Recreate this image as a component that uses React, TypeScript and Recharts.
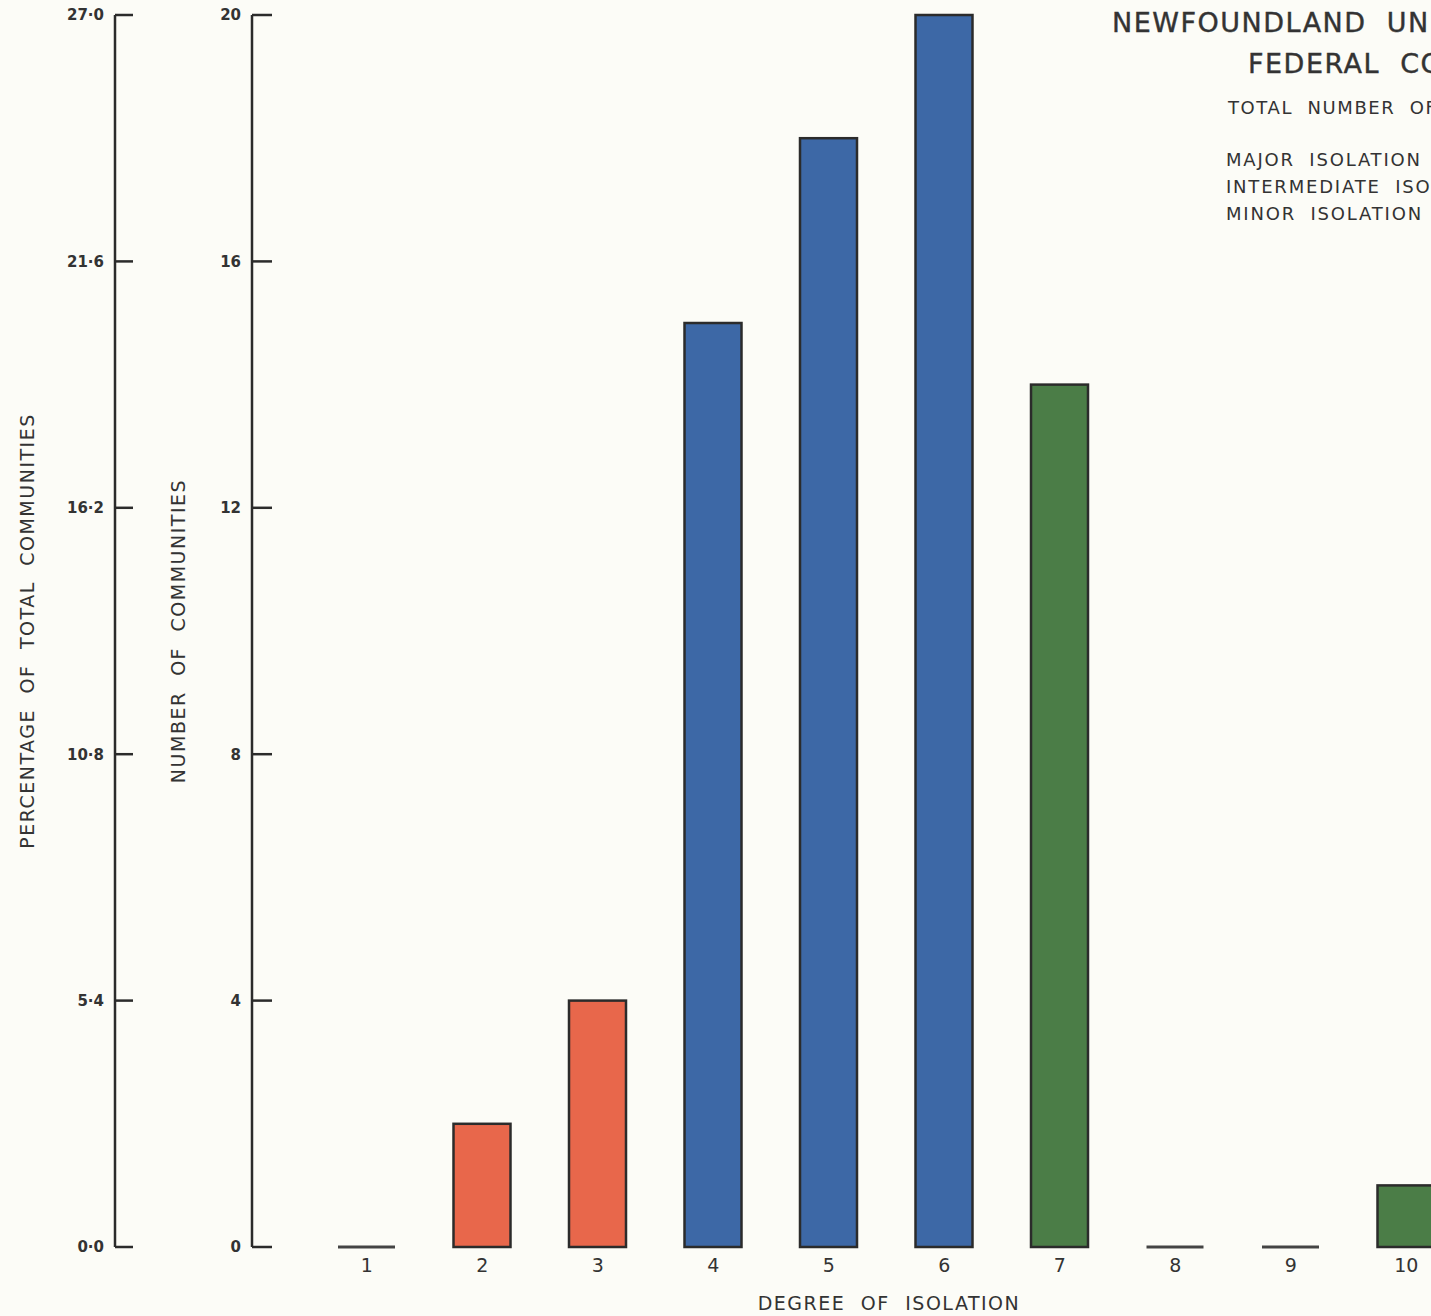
import { Bar, BarChart, Cell, Customized, XAxis, YAxis } from 'recharts';

// degree of isolation scale, 1 (least) .. 10 (most)
const degrees = ['1', '2', '3', '4', '5', '6', '7', '8', '9', '10'];
const communities = [0, 2, 4, 15, 18, 20, 14, 0, 0, 1];
const isolationClass = [
  'minor', 'minor', 'minor',
  'intermediate', 'intermediate', 'intermediate',
  'major', 'major', 'major', 'major',
];

const countTicks = [0, 4, 8, 12, 16, 20];
const pctTicks = [0, 5.4, 10.8, 16.2, 21.6, 27];

const titleLines = ['NEWFOUNDLAND UNDER CONFEDERATION', 'FEDERAL CONTRIBUTION'];
const legendLines = ['MAJOR ISOLATION', 'INTERMEDIATE ISOLATION', 'MINOR ISOLATION'];
const totalLine = 'TOTAL NUMBER OF COMMUNITIES  74';

const classColor: Record<string, string> = {
  minor: '#e8674b',
  intermediate: '#3d68a6',
  major: '#4b7d47',
};

const data = degrees.map((d, i) => ({ degree: d, count: communities[i], cls: isolationClass[i] }));

const FONT = '"DejaVu Sans", sans-serif';
const INK = '#2b2b2b';

function IsolationBar(props: any) {
  const { x, y, width, height, fill } = props;
  if (!height) {
    // empty classes are marked with a short rule on the baseline
    return <line x1={x} x2={x + width} y1={y} y2={y} stroke="#444" strokeWidth={3} />;
  }
  return <rect x={x} y={y} width={width} height={height} fill={fill} stroke={INK} strokeWidth={2.5} />;
}

function Heading() {
  return (
    <g fontFamily={FONT} fill="#333">
      <text x={1112} y={32} fontSize={27} letterSpacing={1.5} stroke="#333" strokeWidth={0.4} style={{ wordSpacing: 10 }}>{titleLines[0]}</text>
      <text x={1248} y={73} fontSize={27} letterSpacing={1.5} stroke="#333" strokeWidth={0.4} style={{ wordSpacing: 10 }}>{titleLines[1]}</text>
      <text x={1228} y={114} fontSize={18} letterSpacing={1.6} style={{ wordSpacing: 7 }}>{totalLine}</text>
      {legendLines.map((t, i) => (
        <text key={t} x={1226} y={166 + i * 27} fontSize={18} letterSpacing={1.8} style={{ wordSpacing: 7 }}>{t}</text>
      ))}
    </g>
  );
}

const axisLabelStyle = {
  textAnchor: 'middle',
  fontFamily: FONT,
  fontSize: 19,
  fill: '#333',
  letterSpacing: 1.5,
  wordSpacing: 8,
};

const tickStyle = { fontFamily: FONT, fontSize: 15, fontWeight: 700, fill: '#333' };

export default function App() {
  return (
    <div style={{ position: 'fixed', left: 0, top: 0, width: 1431, height: 1316, overflow: 'hidden', background: '#fcfcf7' }}>
      <BarChart width={1500} height={1316} data={data} margin={{ top: 15, right: 36, bottom: 0, left: 0 }}>
        <XAxis
          dataKey="degree"
          xAxisId="deg"
          axisLine={false}
          tickLine={false}
          tickSize={0}
          tickMargin={12}
          height={69}
          padding={{ left: 57, right: 0 }}
          tick={{ fontFamily: FONT, fontSize: 19, fill: '#333' }}
          label={{
            value: 'DEGREE OF ISOLATION',
            position: 'insideBottom',
            offset: 6,
            dx: 31,
            style: axisLabelStyle,
          }}
        />
        <YAxis
          yAxisId="count"
          width={137}
          domain={[0, 20]}
          ticks={countTicks}
          interval={0}
          axisLine={{ stroke: INK, strokeWidth: 2.5 }}
          tickLine={{ stroke: INK, strokeWidth: 2.5 }}
          tickSize={-20}
          tickMargin={31}
          tick={tickStyle}
          label={{
            value: 'NUMBER OF COMMUNITIES',
            angle: -90,
            position: 'insideLeft',
            offset: 63,
            style: axisLabelStyle,
          }}
        />
        <YAxis
          yAxisId="pct"
          width={115}
          type="number"
          domain={[0, 27]}
          allowDataOverflow
          ticks={pctTicks}
          interval={0}
          tickFormatter={(v: number) => v.toFixed(1).replace('.', '·')}
          axisLine={{ stroke: INK, strokeWidth: 2.5 }}
          tickLine={{ stroke: INK, strokeWidth: 2.5 }}
          tickSize={-18}
          tickMargin={29}
          tick={tickStyle}
          label={{
            value: 'PERCENTAGE OF TOTAL COMMUNITIES',
            angle: -90,
            position: 'insideLeft',
            offset: 27,
            style: axisLabelStyle,
          }}
        />
        <Bar dataKey="count" xAxisId="deg" yAxisId="count" barSize={57} shape={IsolationBar} isAnimationActive={false}>
          {data.map((d) => (
            <Cell key={d.degree} fill={classColor[d.cls]} />
          ))}
        </Bar>
        <Customized component={Heading} />
      </BarChart>
    </div>
  );
}
